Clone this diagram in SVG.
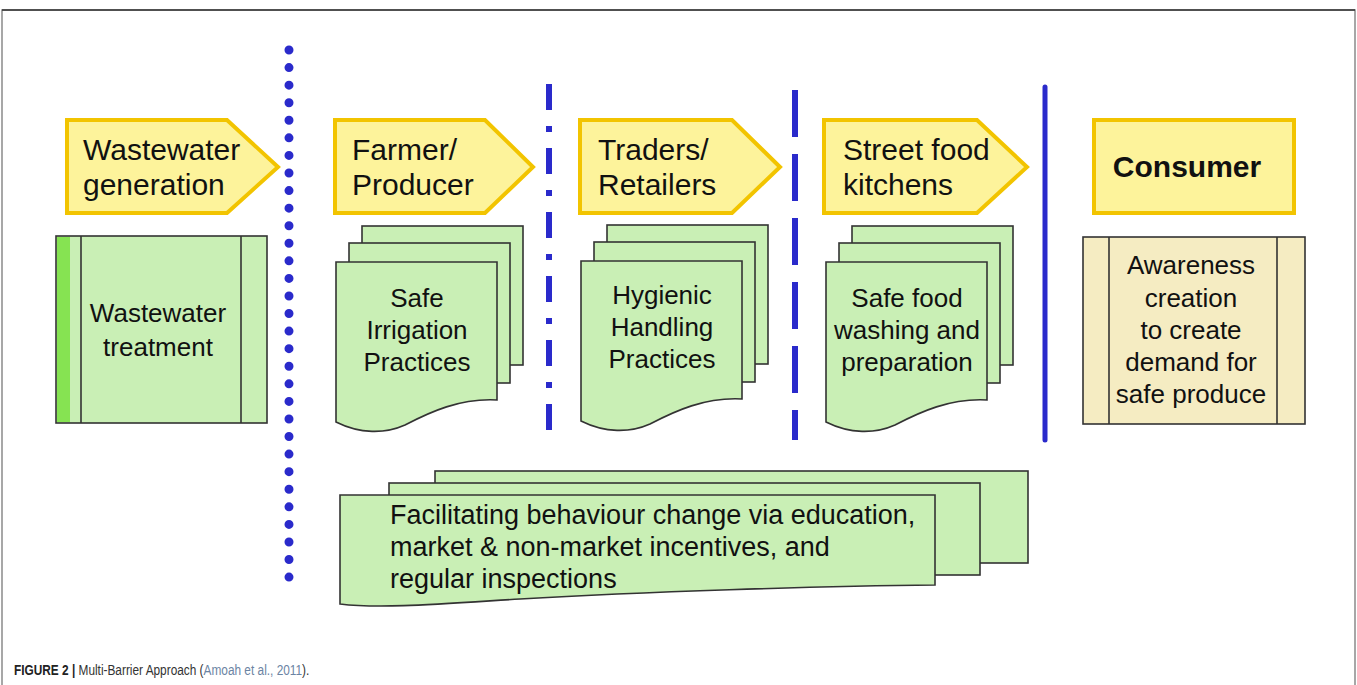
<svg xmlns="http://www.w3.org/2000/svg" width="1357" height="685" viewBox="0 0 1357 685">
  <style>
    .lbl { fill: #fdf39b; stroke: #f2c400; stroke-width: 4; stroke-linejoin: miter; }
    .lt { font-family: "Liberation Sans", Arial, sans-serif; font-size: 30px; fill: #111; }
    .sheet { fill: #c9efb5; stroke: #333; stroke-width: 1.6; }
    .gt { font-family: "Liberation Sans", Arial, sans-serif; font-size: 26px; fill: #111; text-anchor: middle; }
    .bt { font-family: "Liberation Sans", Arial, sans-serif; font-size: 27px; fill: #111; }
    .cap { font-family: "Liberation Sans", Arial, sans-serif; font-size: 15.5px; fill: #333; }
  </style>
  <defs>
    <!-- stacked multi-document shape: two plain sheets behind a wavy-bottom sheet -->
    <g id="docstack">
      <rect class="sheet" x="26" y="-36" width="161" height="139"/>
      <rect class="sheet" x="13" y="-19" width="161" height="140"/>
      <path class="sheet" d="M0,0 H161 V138 C124,136 94,150 69,163 C49,172 24,172 0,160 Z"/>
    </g>
  </defs>

  <rect width="1357" height="685" fill="#fff"/>
  <!-- figure frame -->
  <path d="M2,685 V10 H1355 V685" fill="none" stroke="#8a8a8a" stroke-width="1.5"/>
  <line x1="2" y1="10" x2="1355" y2="10" stroke="#333" stroke-width="1.5"/>

  <!-- barrier lines -->
  <g id="connectors" fill="none" stroke="#2a2acb">
    <line x1="289" y1="50" x2="289" y2="578" stroke-width="9" stroke-linecap="round" stroke-dasharray="0 17.57"/>
    <line x1="549" y1="84" x2="549" y2="432" stroke-width="6" stroke-dasharray="26 16 6 16"/>
    <line x1="795" y1="90" x2="795" y2="440" stroke-width="6" stroke-dasharray="47 17"/>
    <line x1="1045" y1="87" x2="1045" y2="440" stroke-width="5" stroke-linecap="round"/>
  </g>

  <g id="wastewater-generation">
    <path class="lbl" d="M67,120 H227 L278,167 L227,213 H67 Z"/>
    <text class="lt" x="83" y="160">Wastewater</text>
    <text class="lt" x="83" y="195">generation</text>
  </g>
  <g id="farmer-producer">
    <path class="lbl" d="M335,120 H485 L533,167 L485,213 H335 Z"/>
    <text class="lt" x="352" y="160">Farmer/</text>
    <text class="lt" x="352" y="195">Producer</text>
  </g>
  <g id="traders-retailers">
    <path class="lbl" d="M580,120 H732 L780,167 L732,213 H580 Z"/>
    <text class="lt" x="598" y="160">Traders/</text>
    <text class="lt" x="598" y="195">Retailers</text>
  </g>
  <g id="street-food-kitchens">
    <path class="lbl" d="M824,120 H977 L1027,167 L977,213 H824 Z"/>
    <text class="lt" x="843" y="160">Street food</text>
    <text class="lt" x="843" y="195">kitchens</text>
  </g>
  <g id="consumer">
    <rect class="lbl" x="1094" y="120" width="200" height="93"/>
    <text class="lt" x="1187" y="177" text-anchor="middle" font-weight="bold" font-size="28">Consumer</text>
  </g>

  <g id="wastewater-treatment">
    <rect class="sheet" x="56" y="236" width="211" height="187"/>
    <rect x="57" y="237" width="13" height="185" fill="#86e352"/>
    <line x1="81" y1="236" x2="81" y2="423" stroke="#333" stroke-width="1.6"/>
    <line x1="241" y1="236" x2="241" y2="423" stroke="#333" stroke-width="1.6"/>
    <text class="gt" x="158" y="322">Wastewater</text>
    <text class="gt" x="158" y="356">treatment</text>
  </g>

  <g id="safe-irrigation">
    <use href="#docstack" x="336" y="262"/>
    <text class="gt" x="417" y="307">Safe</text>
    <text class="gt" x="417" y="339">Irrigation</text>
    <text class="gt" x="417" y="371">Practices</text>
  </g>
  <g id="hygienic-handling">
    <use href="#docstack" x="581" y="261"/>
    <text class="gt" x="662" y="304">Hygienic</text>
    <text class="gt" x="662" y="336">Handling</text>
    <text class="gt" x="662" y="368">Practices</text>
  </g>
  <g id="safe-food-washing">
    <use href="#docstack" x="826" y="262"/>
    <text class="gt" x="907" y="307">Safe food</text>
    <text class="gt" x="907" y="339">washing and</text>
    <text class="gt" x="907" y="371">preparation</text>
  </g>

  <g id="awareness-creation">
    <rect x="1083" y="237" width="222" height="187" fill="#f5ecc2" stroke="#333" stroke-width="1.6"/>
    <line x1="1109" y1="237" x2="1109" y2="424" stroke="#333" stroke-width="1.6"/>
    <line x1="1277" y1="237" x2="1277" y2="424" stroke="#333" stroke-width="1.6"/>
    <text class="gt" x="1191" y="274">Awareness</text>
    <text class="gt" x="1191" y="307">creation</text>
    <text class="gt" x="1191" y="339">to create</text>
    <text class="gt" x="1191" y="371">demand for</text>
    <text class="gt" x="1191" y="403">safe produce</text>
  </g>

  <g id="behaviour-change">
    <rect class="sheet" x="435" y="471" width="593" height="92"/>
    <rect class="sheet" x="389" y="483" width="591" height="92"/>
    <path class="sheet" d="M340,495 H935 V585 C820,586 640,592 520,599 C440,604 380,609 340,604 Z"/>
    <text class="bt" x="390" y="524">Facilitating behaviour change via education,</text>
    <text class="bt" x="390" y="556">market &amp; non-market incentives, and</text>
    <text class="bt" x="390" y="588">regular inspections</text>
  </g>

  <!-- caption set in a horizontally condensed face -->
  <text class="cap" transform="translate(14,675) scale(0.765,1)"><tspan font-weight="bold" fill="#222">FIGURE 2 |</tspan> Multi-Barrier Approach (<tspan fill="#6b84a3">Amoah et al., 2011</tspan>).</text>
</svg>
